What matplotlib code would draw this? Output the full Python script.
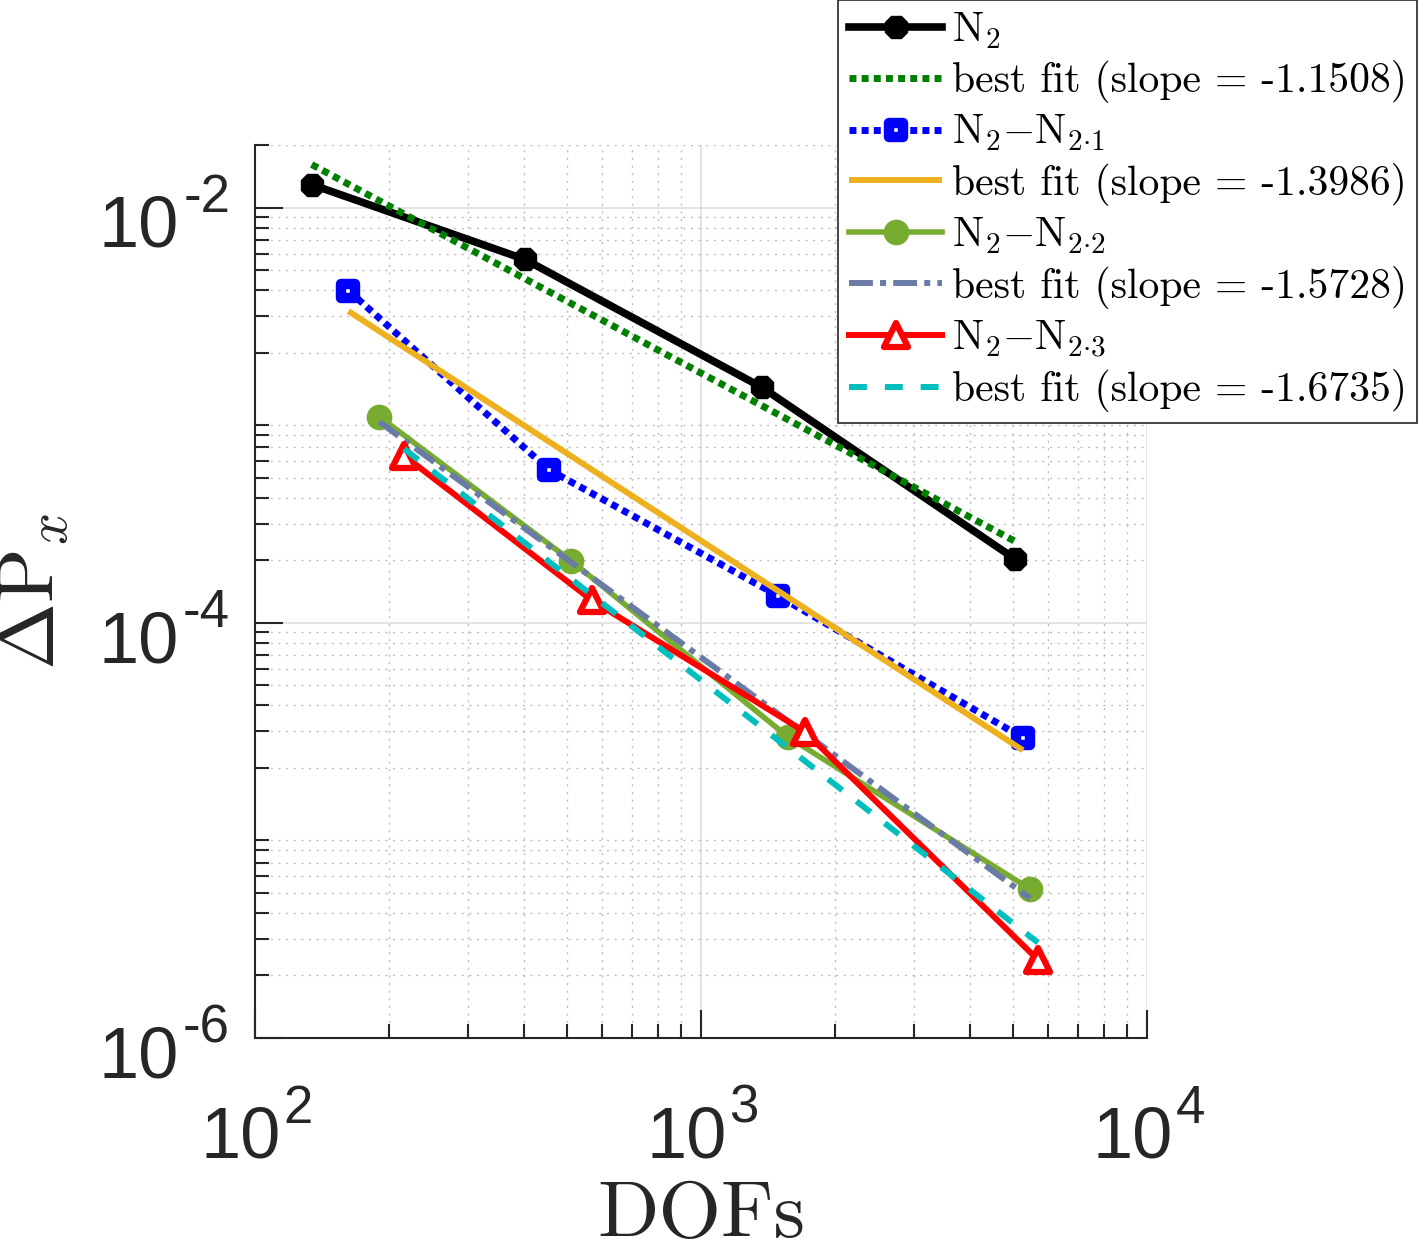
import numpy as np
import matplotlib
matplotlib.use('Agg')
import matplotlib.pyplot as plt
from matplotlib.markers import MarkerStyle
from matplotlib.ticker import LogLocator, FixedLocator, NullFormatter

plt.rcParams['mathtext.fontset'] = 'cm'

# data (DOFs vs error)
dofs_n2 = [134, 403, 1370, 5058]
err_n2 = [1.29e-2, 5.62e-3, 1.36e-3, 2.03e-4]
dofs_21 = [162, 456, 1488, 5272]
err_21 = [3.98e-3, 5.46e-4, 1.35e-4, 2.79e-5]
dofs_22 = [190, 511, 1567, 5467]
err_22 = [9.83e-4, 1.99e-4, 2.82e-5, 5.22e-6]
dofs_23 = [216, 570, 1711, 5696]
err_23 = [6.38e-4, 1.28e-4, 2.98e-5, 2.38e-6]

slopes = [-1.1508, -1.3986, -1.5728, -1.6735]
labels = [r'$\mathrm{N}_2$',
          r'$\mathrm{N}_2{-}\mathrm{N}_{2{\cdot}1}$',
          r'$\mathrm{N}_2{-}\mathrm{N}_{2{\cdot}2}$',
          r'$\mathrm{N}_2{-}\mathrm{N}_{2{\cdot}3}$']

x_exps = [2, 3, 4]
y_exps = [-6, -4, -2]


def fit_line(x, y, slope):
    lx = np.log10(x)
    ly = np.log10(y)
    b = ly.mean() - slope * lx.mean()
    xs = np.array([x[0], x[-1]], dtype=float)
    return xs, 10 ** (b + slope * np.log10(xs))


fig = plt.figure(figsize=(14.23, 12.46), dpi=100)
ax = fig.add_axes([255 / 1423, 1 - 1038 / 1246, 892 / 1423, 893 / 1246])

# N2
ax.plot(dofs_n2, err_n2, '-', color='black', lw=5.5, marker='8', ms=17,
        mfc='black', mec='black', mew=1, label=labels[0])
fx, fy = fit_line(dofs_n2, err_n2, slopes[0])
ax.plot(fx, fy, color='#007F00', lw=5, ls=(0, (1, 0.75)),
        label='best fit (slope = %.4f)' % slopes[0])

# N2 - N2.1
ax.plot(dofs_21, err_21, color='#0000FF', lw=5, ls=(0, (1, 0.75)),
        marker=MarkerStyle('s', joinstyle='round'), ms=10, mfc='white',
        mec='#0000FF', mew=7.5, label=labels[1])
fx, fy = fit_line(dofs_21, err_21, slopes[1])
ax.plot(fx, fy, color='#EDB120', lw=4.3, solid_capstyle='butt',
        label='best fit (slope = %.4f)' % slopes[1])

# N2 - N2.2
ax.plot(dofs_22, err_22, color='#77AC30', lw=4, marker='o', ms=17,
        mfc='#77AC30', mec='#77AC30', mew=1.5, label=labels[2])
fx, fy = fit_line(dofs_22, err_22, slopes[2])
ax.plot(fx, fy, color='#6A7BA6', lw=4.3, ls=(0, (4, 1.2, 1, 1.2)),
        label='best fit (slope = %.4f)' % slopes[2])

# N2 - N2.3
ax.plot(dofs_23, err_23, color='#FF0000', lw=4.3,
        marker=MarkerStyle('^', joinstyle='round'), ms=17,
        mfc='white', mec='#FF0000', mew=4.5, label=labels[3])
fx, fy = fit_line(dofs_23, err_23, slopes[3])
ax.plot(fx, fy, color='#00BFBF', lw=4.3, ls=(0, (3, 3)),
        label='best fit (slope = %.4f)' % slopes[3])

ax.set_xscale('log')
ax.set_yscale('log')
ax.set_xlim(1e2, 1e4)
ax.set_ylim(1e-6, 2e-2)

ax.xaxis.set_major_locator(FixedLocator([10.0 ** e for e in x_exps]))
ax.yaxis.set_major_locator(FixedLocator([10.0 ** e for e in y_exps]))
ax.yaxis.set_minor_locator(LogLocator(base=10, subs=np.arange(2, 10), numticks=20))
ax.xaxis.set_minor_formatter(NullFormatter())
ax.yaxis.set_minor_formatter(NullFormatter())

ax.grid(True, which='major', color='#dedede', lw=1.2, ls='-')
ax.grid(True, which='minor', color='#bdbdbd', lw=1.0, ls=(0, (1.5, 4)))
ax.set_axisbelow(True)

for s in ['top', 'right']:
    ax.spines[s].set_visible(False)
for s in ['left', 'bottom']:
    ax.spines[s].set_color('#262626')
    ax.spines[s].set_linewidth(1.5)

ax.tick_params(which='both', direction='in', color='#262626', width=1.5,
               labelbottom=False, labelleft=False)
ax.tick_params(which='major', length=20)
ax.tick_params(which='minor', length=10)

# MATLAB-style "10^e" tick labels: big base, raised exponent with a short hyphen
tick_font = 'Liberation Sans'
base_size = 52
exp_size = 38
raise_pt = 25
renderer = fig.canvas.get_renderer()


def width_pt(s, size):
    t = fig.text(0, 0, s, fontsize=size, family=tick_font)
    w = t.get_window_extent(renderer).width
    t.remove()
    return w * 72 / fig.dpi


tkw = dict(textcoords='offset points', va='baseline', family=tick_font,
           color='#262626', annotation_clip=False)
w10 = width_pt('10', base_size)
for e in x_exps:
    ex = str(e)
    we = width_pt(ex, exp_size)
    x0 = -(w10 + we) / 2
    y0 = -86
    ax.annotate('10', xy=(10.0 ** e, 0), xycoords=('data', 'axes fraction'),
                xytext=(x0, y0), ha='left', fontsize=base_size, **tkw)
    ax.annotate(ex, xy=(10.0 ** e, 0), xycoords=('data', 'axes fraction'),
                xytext=(x0 + w10 + 2, y0 + raise_pt), ha='left',
                fontsize=exp_size, **tkw)
for e in y_exps:
    ex = '-' + str(abs(e))
    we = width_pt(ex, exp_size)
    x1 = -18 - we
    y0 = -28.4
    ax.annotate('10', xy=(0, 10.0 ** e), xycoords=('axes fraction', 'data'),
                xytext=(x1 - 3, y0), ha='right', fontsize=base_size, **tkw)
    ax.annotate(ex, xy=(0, 10.0 ** e), xycoords=('axes fraction', 'data'),
                xytext=(x1, y0 + raise_pt), ha='left', fontsize=exp_size, **tkw)

ax.set_xlabel('DOFs', family='cmr10', fontsize=58, color='#262626')
ax.set_ylabel(r'$\Delta\mathrm{P}_x$', fontsize=58, color='#262626')
ax.xaxis.set_label_coords(0.5, -0.160)
ax.yaxis.set_label_coords(-0.206, 0.5)

leg = ax.legend(loc='upper right', bbox_to_anchor=(1417 / 1423, 1.0),
                bbox_transform=fig.transFigure, borderaxespad=0,
                prop={'family': 'cmr10', 'size': 30}, handlelength=2.25,
                handletextpad=0.22, labelspacing=0.235, borderpad=0.25,
                numpoints=1, fancybox=False, framealpha=1)
leg.get_frame().set_edgecolor('#262626')
leg.get_frame().set_linewidth(1.2)

fig.savefig('out.png', dpi=100)
